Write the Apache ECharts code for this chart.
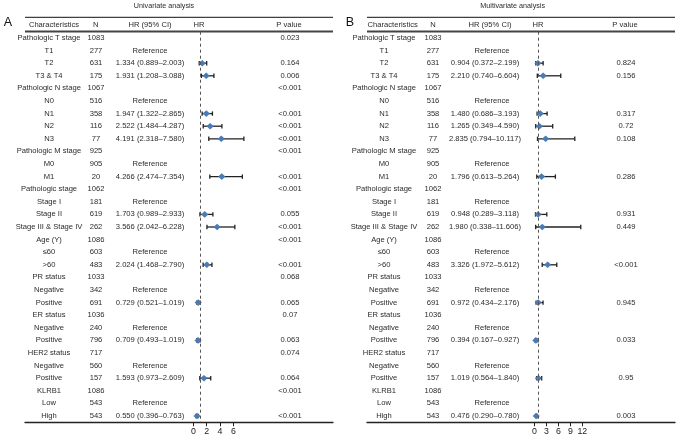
<!DOCTYPE html>
<html><head><meta charset="utf-8">
<script src="https://cdn.jsdelivr.net/npm/echarts@6/dist/echarts.min.js"></script>
<style>html,body{margin:0;padding:0;background:#fff}#c{width:687px;height:441px}</style>
</head><body><div id="c"></div>
<script>
const characteristics = ['Pathologic T stage','T1','T2','T3 & T4','Pathologic N stage','N0','N1','N2','N3',
  'Pathologic M stage','M0','M1','Pathologic stage','Stage I','Stage II','Stage III & Stage IV',
  'Age (Y)','≤60','>60','PR status','Negative','Positive','ER status','Negative','Positive',
  'HER2 status','Negative','Positive','KLRB1','Low','High'];
// g = group row, r = reference row, v = value row
const rowKind = ['g','r','v','v','g','r','v','v','v','g','r','v','g','r','v','v','g','r','v','g','r','v','g','r','v','g','r','v','g','r','v'];
const nValues = [1083,277,631,175,1067,516,358,116,77,925,905,20,1062,181,619,262,1086,603,483,1033,342,691,1036,240,796,717,560,157,1086,543,543];

const uniHR   = [null,null,1.334,1.931,null,null,1.947,2.522,4.191,null,null,4.266,null,null,1.703,3.566,null,null,2.024,null,null,0.729,null,null,0.709,null,null,1.593,null,null,0.550];
const uniLow  = [null,null,0.889,1.208,null,null,1.322,1.484,2.318,null,null,2.474,null,null,0.989,2.042,null,null,1.468,null,null,0.521,null,null,0.493,null,null,0.973,null,null,0.396];
const uniHigh = [null,null,2.003,3.088,null,null,2.865,4.287,7.580,null,null,7.354,null,null,2.933,6.228,null,null,2.790,null,null,1.019,null,null,1.019,null,null,2.609,null,null,0.763];
const uniP    = ['0.023','','0.164','0.006','<0.001','','<0.001','<0.001','<0.001','<0.001','','<0.001','<0.001','','0.055','<0.001','<0.001','','<0.001','0.068','','0.065','0.07','','0.063','0.074','','0.064','<0.001','','<0.001'];

const multiHR   = [null,null,0.904,2.210,null,null,1.480,1.265,2.835,null,null,1.796,null,null,0.948,1.980,null,null,3.326,null,null,0.972,null,null,0.394,null,null,1.019,null,null,0.476];
const multiLow  = [null,null,0.372,0.740,null,null,0.686,0.349,0.794,null,null,0.613,null,null,0.289,0.338,null,null,1.972,null,null,0.434,null,null,0.167,null,null,0.564,null,null,0.290];
const multiHigh = [null,null,2.199,6.604,null,null,3.193,4.590,10.117,null,null,5.264,null,null,3.118,11.606,null,null,5.612,null,null,2.176,null,null,0.927,null,null,1.840,null,null,0.780];
const multiP    = ['','','0.824','0.156','','','0.317','0.72','0.108','','','0.286','','','0.931','0.449','','','<0.001','','','0.945','','','0.033','','','0.95','','','0.003'];

const uniTicks = [0,2,4,6];
const multiTicks = [0,3,6,9,12];
const headers = ['Characteristics','N','HR (95% CI)','HR','P value'];
const titles = ['Univariate analysis','Multivariate analysis'];
const panelLetters = ['A','B'];

const FONT = 'Liberation Sans, Arial, Helvetica, sans-serif';
const TXT = '#2b2b2b';
const FS = 7.6;

// layout (pixels)
const panels = [
  {gl:25, gr:333, x0:193.33, ppu:6.667, cols:{label:49, n:96, hr:150, ref:150, p:290}, hdr:[54,95.7,150,199,289], title:164, letter:8},
  {gl:367, gr:675, x0:534.33, ppu:4.0, cols:{label:384, n:433, hr:485, ref:492, p:626}, hdr:[392.7,433,490,538,625], title:512.7, letter:350}
];
const gridTop = 31.7, gridBottomY = 422.3;

function fmt(v){return v.toFixed(3);}
function hrText(hr,lo,hi,i){
  if(rowKind[i]==='r') return 'Reference';
  if(hr==null) return '';
  return fmt(hr)+' ('+fmt(lo)+'–'+fmt(hi)+')';
}

const sets = [
  {hr:uniHR, lo:uniLow, hi:uniHigh, p:uniP, ticks:uniTicks},
  {hr:multiHR, lo:multiLow, hi:multiHigh, p:multiP, ticks:multiTicks}
];

const grid=[], xAxis=[], yAxis=[], series=[], graphic=[];
panels.forEach((pn,k)=>{
  const s = sets[k];
  grid.push({left:pn.gl, width:pn.gr-pn.gl, top:gridTop, height:gridBottomY-gridTop, containLabel:false});
  const xmin = (pn.gl-pn.x0)/pn.ppu, xmax=(pn.gr-pn.x0)/pn.ppu;
  xAxis.push({gridIndex:k, type:'value', min:xmin, max:xmax,
    axisLine:{show:true, onZero:false, lineStyle:{color:'#222', width:1.3}},
    axisTick:{show:true, customValues:s.ticks, length:4, lineStyle:{color:'#222', width:1}},
    axisLabel:{show:true, customValues:s.ticks, fontSize:8.8, color:'#222', fontFamily:FONT, margin:4.5},
    splitLine:{show:false}});
  yAxis.push({gridIndex:k, type:'category', data:characteristics, inverse:true, show:false});

  // table text
  series.push({type:'custom', xAxisIndex:k, yAxisIndex:k, silent:true, clip:false,
    data: characteristics.map((c,i)=>[0,i]),
    renderItem:(params, api)=>{
      const i = params.dataIndex;
      const y = api.coord([0,i])[1];
      const st = (x,t)=>({type:'text', style:{x:x, y:y, text:t, textAlign:'center', textVerticalAlign:'middle', fill:TXT, font:FS+'px '+FONT}});
      const kids = [st(pn.cols.label, characteristics[i]), st(pn.cols.n, String(nValues[i]))];
      const h = hrText(s.hr[i], s.lo[i], s.hi[i], i);
      if(h) kids.push(st(rowKind[i]==='r'?pn.cols.ref:pn.cols.hr, h));
      if(s.p[i]) kids.push(st(pn.cols.p, s.p[i]));
      return {type:'group', children:kids};
    }});

  // forest marks
  const fdata = [];
  s.hr.forEach((v,i)=>{ if(v!=null) fdata.push([v,i,s.lo[i],s.hi[i]]); });
  series.push({type:'custom', xAxisIndex:k, yAxisIndex:k, silent:true, clip:false,
    encode:{x:[0,2,3], y:1},
    data: fdata,
    renderItem:(params, api)=>{
      const c = api.coord([api.value(0), api.value(1)]);
      const a = api.coord([api.value(2), api.value(1)]);
      const b = api.coord([api.value(3), api.value(1)]);
      const ls = {stroke:'#222', lineWidth:1.3};
      return {type:'group', children:[
        {type:'line', shape:{x1:a[0], y1:c[1], x2:b[0], y2:c[1]}, style:ls},
        {type:'line', shape:{x1:a[0], y1:c[1]-2.2, x2:a[0], y2:c[1]+2.2}, style:ls},
        {type:'line', shape:{x1:b[0], y1:c[1]-2.2, x2:b[0], y2:c[1]+2.2}, style:ls},
        {type:'polygon', shape:{points:[[c[0]-3.6,c[1]],[c[0],c[1]-3.3],[c[0]+3.6,c[1]],[c[0],c[1]+3.3]]}, style:{fill:'#4a7bb7'}}
      ]};
    },
    markLine:{silent:true, symbol:'none', label:{show:false},
      lineStyle:{color:'#555', width:1, type:[3,3]},
      data:[{xAxis:1}]}
  });

  // header lines and text
  graphic.push({type:'line', shape:{x1:pn.gl, y1:17.3, x2:pn.gr, y2:17.3}, style:{stroke:'#111', lineWidth:1}});
  graphic.push({type:'line', shape:{x1:pn.gl, y1:31.5, x2:pn.gr, y2:31.5}, style:{stroke:'#444', lineWidth:1.8}});
  headers.forEach((h,j)=>{
    graphic.push({type:'text', style:{x:pn.hdr[j], y:25, text:h, textAlign:'center', textVerticalAlign:'middle', fill:TXT, font:FS+'px '+FONT}});
  });
  graphic.push({type:'text', style:{x:pn.title, y:6.5, text:titles[k], textAlign:'center', textVerticalAlign:'middle', fill:TXT, font:'7.2px '+FONT}});
  graphic.push({type:'text', style:{x:pn.letter, y:22.5, text:panelLetters[k], textAlign:'center', textVerticalAlign:'middle', fill:'#111', font:'12.5px '+FONT}});
});

const chart = echarts.init(document.getElementById('c'), null, {renderer:'canvas'});
chart.setOption({animation:false, backgroundColor:'#fff', grid, xAxis, yAxis, series, graphic});
</script></body></html>
